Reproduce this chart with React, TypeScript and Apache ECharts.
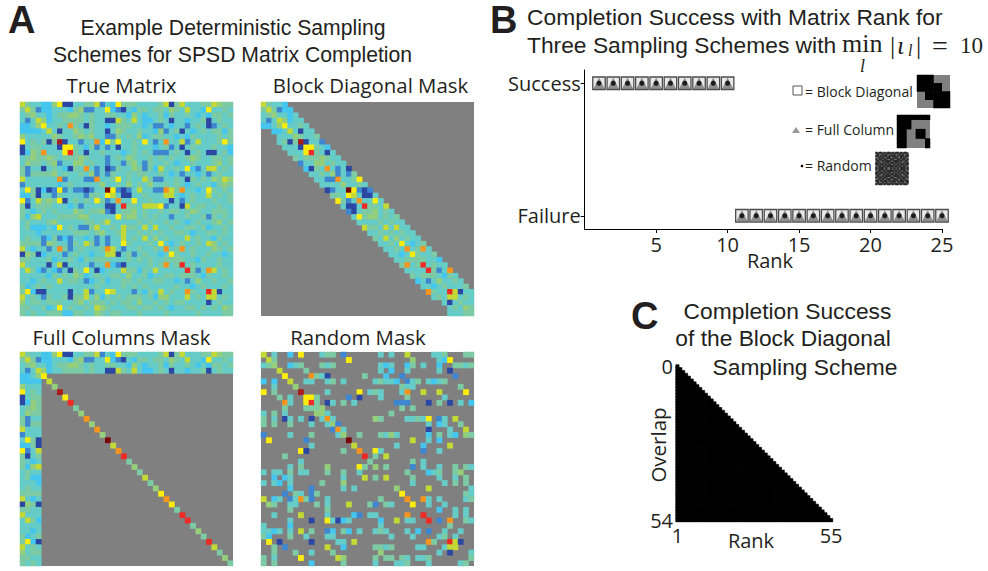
import React, { useEffect, useRef } from "react";
import * as echarts from "echarts";

// Colour level of each cell in the true matrix, upper triangle only (the matrix is symmetric).
const trueMatrixUpper = [
  "6433225700 3344613274 4433334604 6333446544",
  ".641223332 4511337210 3244344354 3633273343",
  "..53323445 5434334433 2532334243 3432324434",
  "...6523344 4434330064 3632234303 3233403433",
  "....733438 4304332344 4332311323 3134301343",
  ".....63033 5434330354 3343325134 0323434424",
  "......5433 4545331143 4352344332 3243333434",
  ".......a03 3133827473 3437313833 6136333474",
  "........77 4324131303 3433323413 0343334332",
  ".........9 4303343332 3434311134 3034300342",
  "4543331343 5433434343 3454334434",
  ".534331331 4531433432 3343334534",
  "..83130143 3541426334 3721366343",
  "...5131433 4344334323 1332313433",
  "....833473 4336411334 3043435465",
  ".....53343 5343533434 3234332454",
  "......b710 1363311864 8332374343",
  ".......630 0334333663 2343363434",
  "........83 3733433303 1343334334",
  ".........9 4436667133 0634433433",
  "4534334344 3454334443",
  ".534343313 3433414343",
  "..43433434 3234334534",
  "...6363343 3443423343",
  "....434334 4323344343",
  ".....53433 3634332433",
  "......7323 4334365343",
  ".......834 8343335434",
  "........74 3343343323",
  ".........4 4332433433",
  "9343333433",
  ".941386343",
  "..43243343",
  "...5334334",
  "....433343",
  ".....96033",
  "......6343",
  ".......433",
  "........54",
  ".........4",
];

// Cells kept by the random mask, upper triangle: column numbers per row.
const randomMaskUpper = [
  [0, 2, 5, 7, 11, 12, 13, 15, 22, 24, 27, 32, 33, 34, 38, 39],
  [1, 2, 16, 28, 33, 34, 35],
  [2, 5, 6, 7, 11, 12, 13, 22, 23, 24, 27, 28, 30, 33, 36, 37, 38, 39],
  [3, 8, 22, 24, 27, 33, 35],
  [4, 9, 10, 11, 12, 19, 23, 26, 36],
  [5, 8, 9, 12, 13, 15, 21, 22, 23, 24, 25, 27, 28, 29, 31, 32, 33, 34],
  [6, 26, 27, 28, 37],
  [7, 12, 18, 20, 21, 22, 26, 27, 30, 33, 38],
  [8, 9, 10, 16, 18, 22, 27, 34],
  [9, 10, 12, 13, 15, 17, 25, 26, 27, 31, 33, 35, 37, 39],
  [10, 11, 26, 28],
  [11, 12, 24],
  [12, 13, 21, 22, 27, 28, 29, 30, 31, 33, 34, 36],
  [13, 14, 31, 33, 34, 37],
  [14, 15, 31, 35, 38],
  [15, 18, 22, 23, 24, 25, 31, 33, 35, 36, 38, 39],
  [16, 28, 31, 33],
  [17, 25, 30, 35],
  [18, 21, 22, 30, 33],
  [19, 21, 23],
  [20, 28, 30],
  [21, 23, 28, 30, 33, 36, 38, 39],
  [27, 31, 32, 33, 36, 37],
  [23, 28, 33, 36, 38],
  [28, 34, 36, 38],
  [25, 31, 39],
  [26, 38, 39],
  [27, 30, 31, 33, 38, 39],
  [28, 31, 34],
  [33, 36, 38],
  [30, 36, 38],
  [31, 33, 35, 38, 39],
  [35],
  [34, 37],
  [34, 36],
  [35, 36, 37],
  [36],
  [39],
  [39],
  [],
];

const fullColumnsKept = [0, 1, 2, 3];
const blockHalfWidth = 4;
const blockCornerGaps = ["5,1", "6,2", "37,33", "38,34"];

const matrixColors = [
  "#2b47a3", "#3f86d0", "#45c6ee", "#66ccc8", "#7ccba4", "#96cf7c",
  "#c4d936", "#fdec0c", "#f7941d", "#ee2a24", "#a81c1c", "#7a0a0a",
];

const successRanks = [1, 2, 3, 4, 5, 6, 7, 8, 9, 10];
const failureRanks = [11, 12, 13, 14, 15, 16, 17, 18, 19, 20, 21, 22, 23, 24, 25];
const rankTicks = [5, 10, 15, 20, 25];
const outcomeTicks = [0, 1];

const blockThumb = ["1100", "1110", "0111", "0011"];
const columnThumb = ["1111111", "1110000", "1110000", "1100110", "1100110", "1100001", "1100001"];
const randomThumb = [
  "10110101101011010110",
  "01001010010100101001",
  "11010110101101011011",
  "00101001100110010100",
  "10110110011001101101",
  "01001011100111010010",
  "10100101011010100101",
  "11011010100101011011",
  "00100101111010100100",
  "10111010010101011101",
  "10111010010101011101",
  "00100101111010100100",
  "11011010100101011011",
  "10100101011010100101",
  "01001011100111010010",
  "10110110011001101101",
  "00101001100110010100",
  "11010110101101011011",
  "01001010010100101001",
  "10110101101011010110",
];

const overlapLabels = Array.from({ length: 55 }, (_, i) => String(i));
const rankLabels = Array.from({ length: 55 }, (_, i) => String(i + 1));
// For each overlap 0..54, the largest rank that was completed successfully.
const largestSuccessfulRank = [
  1, 2, 3, 4, 5, 6, 7, 8, 9, 10, 11, 12, 13, 14, 15, 16, 17, 18, 19, 20,
  21, 22, 23, 24, 25, 26, 27, 28, 29, 30, 31, 32, 33, 34, 35, 36, 37, 38, 39, 40,
  41, 42, 43, 44, 45, 46, 47, 48, 49, 50, 51, 52, 53, 54, 55,
];

const parseLevels = (): number[][] => {
  const n = 40;
  const m: number[][] = Array.from({ length: n }, () => new Array(n).fill(0));
  trueMatrixUpper.forEach((row, r) => {
    const s = row.replace(/ /g, "").padStart(n, ".");
    for (let c = r; c < n; c++) {
      const v = parseInt(s[c], 36);
      m[r][c] = v;
      m[c][r] = v;
    }
  });
  return m;
};

const SANS = "Liberation Sans";
const OPEN = "Open Sans";
const SERIF = "Liberation Serif";
const INK = "#231f20";

export default function App() {
  const ref = useRef<HTMLDivElement>(null);
  useEffect(() => {
    document.body.style.margin = "0";
    const chart = echarts.init(ref.current!, undefined, { renderer: "svg" });
    const levels = parseLevels();
    const ids = Array.from({ length: 40 }, (_, i) => String(i));

    const randomKept = new Set<string>();
    randomMaskUpper.forEach((cols, r) =>
      cols.forEach((c) => {
        randomKept.add(`${r},${c}`);
        randomKept.add(`${c},${r}`);
      })
    );

    const masks: ((r: number, c: number) => boolean)[] = [
      () => true,
      (r, c) => Math.abs(r - c) <= blockHalfWidth && !blockCornerGaps.includes(`${r},${c}`),
      (r, c) => r === c || fullColumnsKept.includes(r) || fullColumnsKept.includes(c),
      (r, c) => randomKept.has(`${r},${c}`),
    ];

    const panels = [
      { left: 20, top: 102, w: 213, h: 214 },
      { left: 261, top: 102, w: 213, h: 214 },
      { left: 20, top: 352, w: 213, h: 214 },
      { left: 261, top: 352, w: 213, h: 214 },
    ];

    const grids: any[] = [];
    const xAxes: any[] = [];
    const yAxes: any[] = [];
    const series: any[] = [];
    const binarySeries: number[] = [];

    panels.forEach((p, i) => {
      grids.push({ left: p.left, top: p.top, width: p.w, height: p.h, show: true, backgroundColor: "#808080", borderWidth: 0 });
      xAxes.push({ type: "category", gridIndex: i, data: ids, show: false });
      yAxes.push({ type: "category", gridIndex: i, data: ids, show: false, inverse: true });
      const data: number[][] = [];
      for (let r = 0; r < 40; r++)
        for (let c = 0; c < 40; c++)
          if (masks[i](r, c)) data.push([c, r, levels[r][c]]);
      series.push({ type: "heatmap", xAxisIndex: i, yAxisIndex: i, data, silent: true });
    });

    // Panel B
    const b = grids.length;
    grids.push({ left: 584.7, top: 70, width: 357.3, height: 159 });
    xAxes.push({
      type: "value", gridIndex: b, min: 0, max: 25,
      splitLine: { show: false },
      axisLine: { onZero: false, lineStyle: { color: "#000", width: 1 } },
      axisTick: { customValues: rankTicks, length: 4, lineStyle: { color: "#000" } },
      axisLabel: { customValues: rankTicks, fontFamily: OPEN, fontSize: 20, color: INK, margin: 5, showMaxLabel: true },
    });
    yAxes.push({
      type: "value", gridIndex: b, min: -0.1, max: 1.1,
      splitLine: { show: false },
      axisLine: { onZero: false, lineStyle: { color: "#000", width: 1 } },
      axisTick: { customValues: outcomeTicks, length: 4, lineStyle: { color: "#000" } },
      axisLabel: {
        customValues: outcomeTicks, fontFamily: OPEN, fontSize: 20, color: INK, margin: 4,
        formatter: (v: number) => (v === 1 ? "Success" : "Failure"),
      },
    });
    const outcomePoints = [...successRanks.map((r) => [r, 1]), ...failureRanks.map((r) => [r, 0])];
    series.push(
      { type: "scatter", xAxisIndex: b, yAxisIndex: b, data: outcomePoints, symbol: "rect", symbolSize: 12.5, silent: true,
        itemStyle: { color: "#e4e4e4", borderColor: "#222", borderWidth: 1.3 } },
      { type: "scatter", xAxisIndex: b, yAxisIndex: b, data: outcomePoints, symbol: "triangle", symbolSize: 11.5, silent: true,
        itemStyle: { color: "#777" } },
      { type: "scatter", xAxisIndex: b, yAxisIndex: b, data: outcomePoints, symbol: "circle", symbolSize: 5, silent: true,
        itemStyle: { color: "#000" } }
    );

    // Legend thumbnails
    const thumb = (rows: string[], left: number, top: number, size: number, off: string, level: number) => {
      const i = grids.length;
      const n = rows.length;
      const cats = rows.map((_, k) => String(k));
      grids.push({ left, top, width: size, height: size, show: true, backgroundColor: off, borderWidth: 0 });
      xAxes.push({ type: "category", gridIndex: i, data: cats, show: false });
      yAxes.push({ type: "category", gridIndex: i, data: cats, show: false, inverse: true });
      const data: number[][] = [];
      for (let r = 0; r < n; r++)
        for (let c = 0; c < n; c++)
          if (rows[r][c] === "1") data.push([c, r, level]);
      binarySeries.push(series.length);
      series.push({ type: "heatmap", xAxisIndex: i, yAxisIndex: i, data, silent: true });
    };
    thumb(blockThumb, 917, 75, 33, "#808080", 1);
    thumb(columnThumb, 897, 115, 33, "#808080", 1);
    thumb(randomThumb, 875.5, 152, 33, "#6e6e6e", 0);

    // Panel C
    const t = grids.length;
    grids.push({ left: 676, top: 365, width: 156.5, height: 156.5 });
    const endLabels = (i: number) => i === 0 || i === 54;
    xAxes.push({
      type: "category", gridIndex: t, data: rankLabels, position: "bottom",
      axisLine: { lineStyle: { color: "#333", width: 1 } },
      axisTick: { alignWithLabel: true, interval: endLabels, length: 4, lineStyle: { color: "#333" } },
      axisLabel: { interval: endLabels, fontFamily: OPEN, fontSize: 20, color: INK, margin: 4, hideOverlap: false },
    });
    yAxes.push({
      type: "category", gridIndex: t, data: overlapLabels, inverse: true,
      axisLine: { lineStyle: { color: "#333", width: 1 } },
      axisTick: { alignWithLabel: true, interval: endLabels, length: 4, lineStyle: { color: "#333" } },
      axisLabel: { interval: endLabels, fontFamily: OPEN, fontSize: 20, color: INK, margin: 3 },
    });
    const triangle: number[][] = [];
    largestSuccessfulRank.forEach((maxRank, overlap) => {
      for (let rank = 1; rank <= maxRank; rank++) triangle.push([rank - 1, overlap, 1]);
    });
    binarySeries.push(series.length);
    series.push({ type: "heatmap", xAxisIndex: t, yAxisIndex: t, data: triangle, silent: true,
      itemStyle: { borderColor: "#000", borderWidth: 0.6 } });

    const txt = (text: string, x: number, y: number, font: string, size: number, extra: any = {}, rest: any = {}) => ({
      type: "text", x, y, silent: true, ...rest,
      style: { text, fontFamily: font, fontSize: size, fill: INK, textAlign: "left", textVerticalAlign: "middle", ...extra },
    });
    const mid = { textAlign: "center" };

    const graphic = [
      txt("A", 8, 20, SANS, 38, { fontWeight: "bold" }),
      txt("B", 490, 20, SANS, 38, { fontWeight: "bold" }),
      txt("C", 631, 316, SANS, 38, { fontWeight: "bold" }),
      txt("Example Deterministic Sampling", 233, 27, SANS, 21.2, mid),
      txt("Schemes for SPSD Matrix Completion", 232.5, 54, SANS, 21.2, mid),
      txt("True Matrix", 121.5, 85, OPEN, 20.4, mid),
      txt("Block Diagonal Mask", 370.5, 85, OPEN, 20.4, mid),
      txt("Full Columns Mask", 121.5, 337, OPEN, 20.4, mid),
      txt("Random Mask", 358, 337, OPEN, 20.4, mid),
      txt("Completion Success with Matrix Rank for", 527, 17, SANS, 22.8),
      txt("Three Sampling Schemes with", 527, 45, SANS, 22.8),
      txt("min", 842, 43, SERIF, 26),
      txt("l", 860, 66, SERIF, 18, { fontStyle: "italic" }),
      txt("|", 890, 45, SERIF, 26),
      txt("ι", 897, 45, SERIF, 26, { fontStyle: "italic" }),
      txt("l", 908, 50, SERIF, 16, { fontStyle: "italic" }),
      txt("|", 916, 45, SERIF, 26),
      txt("=", 932, 45, SERIF, 28),
      txt("10", 960, 45, SERIF, 23),
      txt("Rank", 770, 260, OPEN, 20, mid),
      { type: "rect", silent: true, shape: { x: 793, y: 86, width: 9, height: 9 }, style: { fill: "#fff", stroke: "#555", lineWidth: 1 } },
      txt("= Block Diagonal", 805, 91, OPEN, 14),
      { type: "polygon", silent: true, shape: { points: [[792, 133], [800, 133], [796, 127]] }, style: { fill: "#999" } },
      txt("= Full Column", 805, 129, OPEN, 14),
      { type: "circle", silent: true, shape: { cx: 802, cy: 166, r: 1.3 }, style: { fill: "#000" } },
      txt("= Random", 805, 165, OPEN, 14),
      txt("Completion Success", 787.5, 311, SANS, 22.8, mid),
      txt("of the Block Diagonal", 783, 338, SANS, 22.8, mid),
      txt("Sampling Scheme", 805, 367, SANS, 22.8, mid),
      txt("Overlap", 658, 445, OPEN, 20.5, mid, { rotation: Math.PI / 2 }),
      txt("Rank", 751, 540, OPEN, 20, mid),
    ];

    chart.setOption({
      animation: false,
      backgroundColor: "#fff",
      grid: grids,
      xAxis: xAxes,
      yAxis: yAxes,
      series,
      visualMap: [
        { type: "continuous", show: false, seriesIndex: [0, 1, 2, 3], dimension: 2, min: 0, max: 11, inRange: { color: matrixColors } },
        { type: "continuous", show: false, seriesIndex: binarySeries, dimension: 2, min: 0, max: 1, inRange: { color: ["#2a2a2a", "#000"] } },
      ],
      graphic,
    });
    return () => chart.dispose();
  }, []);
  return <div ref={ref} style={{ width: 988, height: 571 }} />;
}
